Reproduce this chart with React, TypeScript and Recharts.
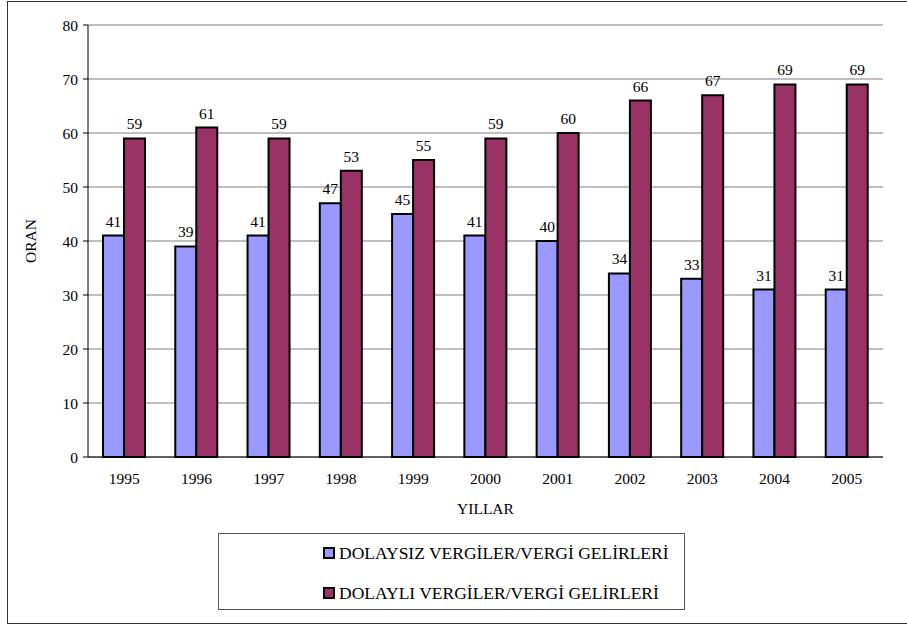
import React from 'react';
import {
  BarChart,
  Bar,
  XAxis,
  YAxis,
  CartesianGrid,
  LabelList,
  ReferenceLine,
} from 'recharts';

const years = ['1995', '1996', '1997', '1998', '1999', '2000', '2001', '2002', '2003', '2004', '2005'];
const dolaysiz = [41, 39, 41, 47, 45, 41, 40, 34, 33, 31, 31];
const dolayli = [59, 61, 59, 53, 55, 59, 60, 66, 67, 69, 69];
const yTicks = [0, 10, 20, 30, 40, 50, 60, 70, 80];
const boundaryTicks = [0, 1, 2, 3, 4, 5, 6, 7, 8, 9, 10, 11];

const seriesNames = {
  dolaysiz: 'DOLAYSIZ VERGİLER/VERGİ GELİRLERİ',
  dolayli: 'DOLAYLI VERGİLER/VERGİ GELİRLERİ',
};

const BLUE = '#9999FF';
const MAROON = '#993366';
const FONT = 'Liberation Serif, Tinos, Times New Roman, DejaVu Serif, serif';
const FS = 15.5;

const data = years.map((year, i) => ({
  year,
  dolaysiz: dolaysiz[i],
  dolayli: dolayli[i],
}));

const LegendBox = () => (
  <div
    style={{
      position: 'absolute',
      left: 218,
      top: 533,
      width: 467,
      height: 77,
      border: '1px solid #555',
      boxSizing: 'border-box',
      fontFamily: FONT,
      fontSize: 17.5,
      color: '#000',
    }}
  >
    {[
      { name: seriesNames.dolaysiz, color: BLUE, top: 8 },
      { name: seriesNames.dolayli, color: MAROON, top: 48 },
    ].map((item) => (
      <div
        key={item.name}
        style={{ position: 'absolute', left: 104, top: item.top, display: 'flex', alignItems: 'center', whiteSpace: 'nowrap', lineHeight: '22px' }}
      >
        <span
          style={{
            display: 'inline-block',
            width: 8,
            height: 8,
            background: item.color,
            border: '2px solid #000',
            marginRight: 4,
          }}
        />
        <span>{item.name}</span>
      </div>
    ))}
  </div>
);

const App: React.FC = () => {
  return (
    <div style={{ position: 'absolute', left: 0, top: 0, width: 907, height: 625, overflow: 'hidden', background: '#fff' }}>
      <div style={{ position: 'absolute', left: 0, top: 0 }}>
        <BarChart
          width={907}
          height={625}
          data={data}
          margin={{ top: 25, right: 24, left: 28, bottom: 122 }}
          barGap={0}
          barSize={21}
        >
          <CartesianGrid vertical={false} stroke="#808080" strokeWidth={1} />
          <XAxis
            dataKey="year"
            xAxisId="cat"
            tickLine={false}
            axisLine={{ stroke: '#000', strokeWidth: 1 }}
            tickSize={0}
            tickMargin={16}
            height={46}
            tick={{ fill: '#000', fontSize: FS, fontFamily: FONT }}
            label={{ value: 'YILLAR', position: 'bottom', offset: 0, fill: '#000', fontSize: FS, fontFamily: FONT }}
          />
          <XAxis
            xAxisId="edge"
            type="number"
            domain={[0, 11]}
            ticks={boundaryTicks}
            axisLine={false}
            tickLine={{ stroke: '#000' }}
            tickSize={5}
            tick={false}
            height={0}
          />
          <YAxis
            domain={[0, 80]}
            ticks={yTicks}
            width={60}
            interval={0}
            axisLine={{ stroke: '#000', strokeWidth: 1 }}
            tickLine={{ stroke: '#000' }}
            tickSize={5}
            tickMargin={5}
            tick={{ fill: '#000', fontSize: FS, fontFamily: FONT }}
            label={{
              content: (props: any) => {
                const vb = props.viewBox || { x: 28, y: 25, height: 432 };
                const cx = vb.x + 2;
                const cy = vb.y + vb.height / 2;
                return (
                  <text
                    x={cx}
                    y={cy}
                    transform={`rotate(-90 ${cx} ${cy})`}
                    textAnchor="middle"
                    dominantBaseline="central"
                    fontSize={FS}
                    fontFamily={FONT}
                    fill="#000"
                  >
                    ORAN
                  </text>
                );
              },
            }}
          />
          <ReferenceLine xAxisId="edge" x={11} stroke="#808080" />
          <Bar
            xAxisId="cat"
            dataKey="dolaysiz"
            name={seriesNames.dolaysiz}
            fill={BLUE}
            stroke="#000"
            strokeWidth={2}
            isAnimationActive={false}
          >
            <LabelList dataKey="dolaysiz" position="top" offset={9} fill="#000" fontSize={FS} fontFamily={FONT} />
          </Bar>
          <Bar
            xAxisId="cat"
            dataKey="dolayli"
            name={seriesNames.dolayli}
            fill={MAROON}
            stroke="#000"
            strokeWidth={2}
            isAnimationActive={false}
          >
            <LabelList dataKey="dolayli" position="top" offset={9} fill="#000" fontSize={FS} fontFamily={FONT} />
          </Bar>
        </BarChart>
      </div>
      <LegendBox />
      <div
        style={{
          position: 'absolute',
          left: 7,
          top: 1,
          width: 910,
          height: 623,
          border: '1px solid #333',
          boxSizing: 'border-box',
          pointerEvents: 'none',
          zIndex: 2,
        }}
      />
    </div>
  );
};

export default App;
